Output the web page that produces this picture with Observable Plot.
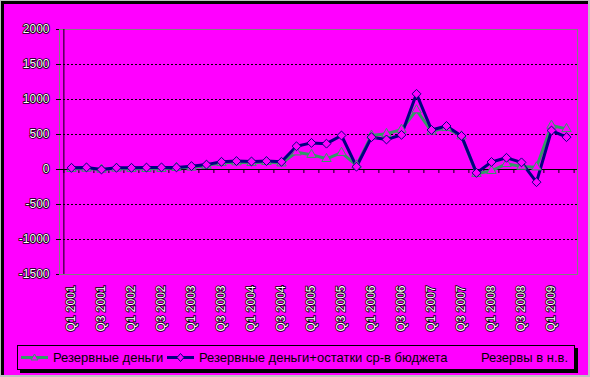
<!DOCTYPE html>
<html>
<head>
<meta charset="utf-8">
<script src="https://cdn.jsdelivr.net/npm/d3@7"></script>
<script src="https://cdn.jsdelivr.net/npm/@observablehq/plot@0.6"></script>
<style>
  html, body { margin: 0; padding: 0; background: #c0c0c0; }
  #wrap { position: relative; width: 590px; height: 377px; background: #c0c0c0; overflow: hidden; }
  #inner { position: absolute; left: 1px; top: 1px; width: 587px; height: 374px; box-sizing: border-box;
           border-top: 3px solid #000; border-left: 3px solid #000; background: #ff00ff; }
  #chart { position: absolute; left: 0; top: 0; }
  #chart svg text { fill: #fff; stroke: #000; stroke-width: 1.6px; paint-order: stroke; }
  #legend { position: absolute; left: 17px; top: 345px; width: 558px; height: 25px; box-sizing: border-box;
            border: 1px solid #000; box-shadow: 3px 3px 0 #000; background: #ff00ff;
            font: 13px "Liberation Sans", Arial, sans-serif; color: #000; }
  .item { position: absolute; top: 0; height: 23px; display: flex; align-items: center; white-space: nowrap; }
  .item svg { margin-right: 4px; }
</style>
</head>
<body>
<div id="wrap">
  <div id="inner"></div>
  <div id="chart"></div>
  <div id="legend"></div>
</div>
<script>
const quarters = ["Q1 2001","Q2 2001","Q3 2001","Q4 2001","Q1 2002","Q2 2002","Q3 2002","Q4 2002",
  "Q1 2003","Q2 2003","Q3 2003","Q4 2003","Q1 2004","Q2 2004","Q3 2004","Q4 2004",
  "Q1 2005","Q2 2005","Q3 2005","Q4 2005","Q1 2006","Q2 2006","Q3 2006","Q4 2006",
  "Q1 2007","Q2 2007","Q3 2007","Q4 2007","Q1 2008","Q2 2008","Q3 2008","Q4 2008",
  "Q1 2009","Q2 2009"];
const reserveMoney = [10,14,0,15,10,10,10,25,30,55,95,105,95,110,90,247,212,153,240,60,
  486,510,570,848,545,595,475,-60,-18,81,43,33,628,580];
const reservePlusBudget = [24,30,0,25,24,28,30,30,48,70,110,120,115,120,110,332,380,369,486,40,
  462,429,495,1081,565,622,480,-48,108,167,102,-181,557,462];
const yTicks = [-1500,-1000,-500,0,500,1000,1500,2000];
const gridValues = [-1000,-500,500,1000,1500];
const xTickLabels = quarters.filter((d, i) => i % 2 === 0);
const seriesNames = ["Резервные деньги", "Резервные деньги+остатки ср-в бюджета", "Резервы в н.в."];

const W = 590, H = 340, mL = 59, mR = 13, mT = 29, mB = 66;
const step = (W - mL - mR) / quarters.length;
const green = "#339966", navy = "#000080";

const rows = quarters.map((q, i) => ({q, a: reserveMoney[i], b: reservePlusBudget[i]}));

const chart = Plot.plot({
  width: W, height: H,
  marginLeft: mL, marginRight: mR, marginTop: mT, marginBottom: mB,
  style: {background: "transparent", fontFamily: "'Liberation Sans', Arial, sans-serif", fontSize: "12px"},
  x: {type: "point", domain: quarters, padding: 0.5, label: null},
  y: {domain: [-1500, 2000], label: null},
  marks: [
    Plot.frame({stroke: "#808080"}),
    Plot.ruleY(gridValues, {stroke: "#000", strokeDasharray: "2,2"}),
    Plot.ruleY([0], {stroke: "#000"}),
    Plot.ruleX(quarters, {x: d => d, y1: 0, y2: 0, insetBottom: -4, dx: -step / 2, stroke: "#000"}),
    Plot.ruleX([quarters[quarters.length - 1]], {x: d => d, y1: 0, y2: 0, insetBottom: -4, dx: step / 2, stroke: "#000"}),
    Plot.ruleX([quarters[0]], {x: d => d, dx: -step / 2, stroke: "#000"}),
    Plot.axisY({ticks: yTicks, tickSize: 3, tickPadding: 7, stroke: "#000", label: null, tickFormat: d => String(d)}),
    Plot.axisX({ticks: xTickLabels, tickSize: 0, tickPadding: 11, tickRotate: -90, anchor: "bottom", label: null}),
    Plot.line(rows, {x: "q", y: "a", stroke: green, strokeWidth: 3}),
    Plot.line(rows, {x: "q", y: "b", stroke: navy, strokeWidth: 3}),
    Plot.dot(rows, {x: "q", y: "a", symbol: "triangle", r: 3.5, stroke: green, strokeWidth: 1, fill: "#ff00ff"}),
    Plot.dot(rows, {x: "q", y: "b", symbol: "diamond2", r: 4, stroke: navy, strokeWidth: 1, fill: "#ff00ff"})
  ]
});
document.getElementById("chart").appendChild(chart);

// legend
const legend = document.getElementById("legend");
const legendItems = [
  {name: seriesNames[0], color: green, sym: "tri", left: 3},
  {name: seriesNames[1], color: navy, sym: "dia", left: 149},
  {name: seriesNames[2], color: "#ff00ff", sym: "none", left: 446}
];
for (const it of legendItems) {
  const div = document.createElement("div");
  div.className = "item";
  div.style.left = it.left + "px";
  let marker = "";
  if (it.sym === "tri") marker = `<path d="M13.5,8 L17,14 L10,14 Z" fill="#ff00ff" stroke="${it.color}" stroke-width="1"/>`;
  if (it.sym === "dia") marker = `<path d="M13.5,7.5 L17,11.5 L13.5,15.5 L10,11.5 Z" fill="#ff00ff" stroke="${it.color}" stroke-width="1"/>`;
  const line = it.sym === "none" ? "" : `<line x1="0" x2="27" y1="11.5" y2="11.5" stroke="${it.color}" stroke-width="3"/>`;
  div.innerHTML = `<svg width="${it.sym === "none" ? 13 : 28}" height="23">${line}${marker}</svg><span>${it.name}</span>`;
  legend.appendChild(div);
}
</script>
</body>
</html>
